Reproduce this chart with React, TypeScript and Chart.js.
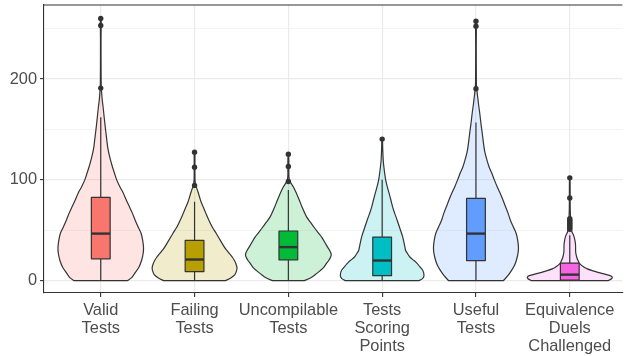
import React, { useEffect, useRef } from "react";
import { Chart, registerables } from "chart.js";

Chart.register(...registerables);

// Category labels (multi-line)
const categories: string[][] = [
  ["Valid", "Tests"],
  ["Failing", "Tests"],
  ["Uncompilable", "Tests"],
  ["Tests", "Scoring", "Points"],
  ["Useful", "Tests"],
  ["Equivalence", "Duels", "Challenged"],
];

const yTicks = [0, 50, 100, 150, 200, 250];
const yLabelled = [0, 100, 200];

// Violin density profiles: [value, half width in category units]
const validViolin: number[][] = [
  [0, 0.283], [3, 0.33], [7, 0.36], [13, 0.405], [20, 0.435], [27, 0.452], [33, 0.456],
  [40, 0.447], [47, 0.43], [53, 0.4], [60, 0.367], [67, 0.337], [73, 0.307], [80, 0.272],
  [87, 0.24], [93, 0.205], [100, 0.17], [107, 0.145], [113, 0.124], [120, 0.103], [127, 0.085],
  [133, 0.073], [140, 0.064], [147, 0.055], [153, 0.047], [160, 0.039], [167, 0.031],
  [173, 0.024], [180, 0.015], [187, 0.009], [193, 0.005], [200, 0.004], [220, 0.003],
  [240, 0.003], [250, 0.004], [255, 0.005], [259, 0.004], [261, 0],
];
const failingViolin: number[][] = [
  [0, 0.33], [3, 0.39], [6, 0.43], [10, 0.448], [13, 0.452], [17, 0.44], [20, 0.425],
  [23, 0.405], [27, 0.37], [30, 0.345], [33, 0.32], [40, 0.275], [47, 0.23], [53, 0.19],
  [60, 0.153], [67, 0.12], [73, 0.093], [78, 0.07], [83, 0.053], [88, 0.037], [92, 0.022],
  [96, 0.01], [100, 0.005], [110, 0.004], [120, 0.004], [126, 0.004], [128, 0],
];
const uncompilableViolin: number[][] = [
  [0, 0.17], [3, 0.24], [7, 0.3], [10, 0.34], [13, 0.375], [17, 0.405], [20, 0.43],
  [23, 0.448], [26, 0.457], [30, 0.44], [33, 0.42], [37, 0.395], [43, 0.357], [48, 0.315],
  [53, 0.274], [58, 0.235], [63, 0.196], [68, 0.17], [73, 0.146], [78, 0.125], [83, 0.103],
  [88, 0.08], [93, 0.054], [96, 0.033], [99, 0.015], [103, 0.006], [110, 0.005],
  [120, 0.005], [126, 0],
];
const scoringViolin: number[][] = [
  [0, 0.39], [2, 0.43], [5, 0.446], [10, 0.435], [13, 0.41], [17, 0.374], [20, 0.34],
  [23, 0.3], [27, 0.27], [30, 0.25], [33, 0.243], [38, 0.232], [43, 0.22], [48, 0.203],
  [53, 0.185], [60, 0.16], [67, 0.133], [73, 0.112], [80, 0.093], [87, 0.073], [93, 0.055],
  [98, 0.042], [103, 0.032], [113, 0.018], [120, 0.011], [130, 0.006], [138, 0.004], [141, 0],
];
const usefulViolin: number[][] = [
  [0, 0.292], [5, 0.34], [10, 0.378], [15, 0.41], [20, 0.43], [27, 0.448], [33, 0.453],
  [40, 0.445], [47, 0.428], [53, 0.4], [60, 0.367], [67, 0.342], [73, 0.317], [80, 0.288],
  [87, 0.257], [93, 0.227], [100, 0.196], [107, 0.167], [113, 0.139], [120, 0.116],
  [127, 0.096], [133, 0.085], [140, 0.075], [147, 0.066], [153, 0.057], [160, 0.048],
  [167, 0.039], [173, 0.03], [180, 0.021], [187, 0.012], [193, 0.006], [200, 0.004],
  [230, 0.003], [250, 0.004], [256, 0.004], [258, 0],
];
const duelsViolin: number[][] = [
  [0, 0.41], [2, 0.445], [3.5, 0.453], [5, 0.43], [6.7, 0.365], [8, 0.31], [10, 0.24],
  [12, 0.18], [13.5, 0.15], [17, 0.105], [20, 0.088], [23, 0.075], [27, 0.065], [30, 0.062],
  [34, 0.062], [37, 0.06], [40, 0.055], [43, 0.048], [46, 0.036], [48, 0.025], [52, 0.014],
  [58, 0.01], [63, 0.008], [70, 0.005], [80, 0.004], [90, 0.004], [100, 0.003], [102, 0],
];

// Box plot statistics per category
const boxQ1 = [21.7, 9, 20.7, 5, 20, 0.5];
const boxMedian = [46.7, 21, 33.3, 20, 46.7, 6];
const boxQ3 = [82.7, 40, 49.3, 43.3, 81.7, 17.5];
const whiskerLow = [0, 0, 0, 0, 0, 0];
const whiskerHigh = [162, 78.3, 90, 100, 157, 45];

// Outlying observations per category
const validOutliers = [191, 253, 260];
const failingOutliers = [94.5, 112.5, 127.5];
const uncompilableOutliers = [98.3, 113.3, 125.5];
const scoringOutliers = [140.4];
const usefulOutliers = [190.4, 252.3, 257.3];
const duelsOutliers = [51, 52.5, 54, 55.5, 57, 58.5, 60, 61.5, 82, 102];

const violins = [validViolin, failingViolin, uncompilableViolin, scoringViolin, usefulViolin, duelsViolin];
const outliers = [validOutliers, failingOutliers, uncompilableOutliers, scoringOutliers, usefulOutliers, duelsOutliers];

const palette = ["#F8766D", "#B79F00", "#00BA38", "#00BFC4", "#619CFF", "#F564E3"];
const INK = "#333333";
const BOX_WIDTH = 0.2;

function hexToRgba(hex: string, a: number) {
  const n = parseInt(hex.slice(1), 16);
  return `rgba(${(n >> 16) & 255},${(n >> 8) & 255},${n & 255},${a})`;
}

// Smooth open curve through points (Catmull-Rom converted to Bezier)
function smoothPath(ctx: CanvasRenderingContext2D, pts: number[][]) {
  ctx.moveTo(pts[0][0], pts[0][1]);
  for (let i = 0; i < pts.length - 1; i++) {
    const p0 = pts[Math.max(0, i - 1)];
    const p1 = pts[i];
    const p2 = pts[i + 1];
    const p3 = pts[Math.min(pts.length - 1, i + 2)];
    const c1x = p1[0] + (p2[0] - p0[0]) / 6;
    const c1y = p1[1] + (p2[1] - p0[1]) / 6;
    const c2x = p2[0] - (p3[0] - p1[0]) / 6;
    const c2y = p2[1] - (p3[1] - p1[1]) / 6;
    ctx.bezierCurveTo(c1x, c1y, c2x, c2y, p2[0], p2[1]);
  }
}

const violinBoxPlugin = {
  id: "violinBox",
  beforeDatasetsDraw(chart: any) {
    const { ctx, scales } = chart;
    const xs = scales.x;
    const ys = scales.y;
    const unit = xs.getPixelForValue(2) - xs.getPixelForValue(1);
    ctx.save();
    ctx.lineJoin = "round";
    ctx.lineCap = "butt";

    violins.forEach((prof, i) => {
      const xc = xs.getPixelForValue(i + 1);
      const right = prof.map(([v, w]) => [xc + w * unit, ys.getPixelForValue(v)]);
      const left = prof
        .slice(0, -1)
        .reverse()
        .map(([v, w]) => [xc - w * unit, ys.getPixelForValue(v)]);
      ctx.beginPath();
      smoothPath(ctx, right.concat(left));
      ctx.closePath();
      ctx.fillStyle = hexToRgba(palette[i], 0.2);
      ctx.fill();
      ctx.strokeStyle = INK;
      ctx.lineWidth = 1.2;
      ctx.stroke();
    });

    violins.forEach((_, i) => {
      const xc = xs.getPixelForValue(i + 1);
      const half = (BOX_WIDTH / 2) * unit;
      const yq1 = ys.getPixelForValue(boxQ1[i]);
      const yq3 = ys.getPixelForValue(boxQ3[i]);
      const ymed = ys.getPixelForValue(boxMedian[i]);
      const ylo = ys.getPixelForValue(whiskerLow[i]);
      const yhi = ys.getPixelForValue(whiskerHigh[i]);
      ctx.strokeStyle = INK;
      ctx.lineWidth = 1.2;
      ctx.beginPath();
      ctx.moveTo(xc, yq3);
      ctx.lineTo(xc, yhi);
      ctx.moveTo(xc, yq1);
      ctx.lineTo(xc, ylo);
      ctx.stroke();
      ctx.fillStyle = palette[i];
      ctx.fillRect(xc - half, yq3, 2 * half, yq1 - yq3);
      ctx.strokeRect(xc - half, yq3, 2 * half, yq1 - yq3);
      ctx.lineWidth = 2.4;
      ctx.beginPath();
      ctx.moveTo(xc - half, ymed);
      ctx.lineTo(xc + half, ymed);
      ctx.stroke();
    });
    ctx.restore();
  },
  afterDraw(chart: any) {
    const { ctx, chartArea } = chart;
    ctx.save();
    ctx.strokeStyle = INK;
    ctx.lineWidth = 1.1;
    ctx.beginPath();
    ctx.moveTo(chartArea.left, chartArea.top);
    ctx.lineTo(chartArea.right, chartArea.top);
    ctx.stroke();
    ctx.restore();
  },
};

const FONT = "'Liberation Sans', Arial, sans-serif";

export default function App() {
  const canvasRef = useRef<HTMLCanvasElement | null>(null);

  useEffect(() => {
    document.body.style.margin = "0";
    const canvas = canvasRef.current;
    if (!canvas) return;

    const points = outliers.flatMap((vals, i) => vals.map((v) => ({ x: i + 1, y: v })));

    const chart = new Chart(canvas, {
      type: "scatter",
      data: {
        datasets: [
          {
            data: points,
            pointRadius: 2.7,
            pointHoverRadius: 2.7,
            pointBackgroundColor: INK,
            pointBorderWidth: 0,
            showLine: false,
          },
        ],
      },
      options: {
        responsive: false,
        animation: false,
        devicePixelRatio: 1,
        layout: { padding: { top: 5, right: 0, left: 0, bottom: 0 } },
        plugins: { legend: { display: false }, tooltip: { enabled: false } },
        scales: {
          x: {
            type: "linear",
            min: 0.395,
            max: 6.56,
            afterBuildTicks: (scale: any) => {
              scale.ticks = categories.map((_, i) => ({ value: i + 1 }));
            },
            afterFit: (scale: any) => {
              scale.height = 63;
              scale.paddingLeft = 0;
              scale.paddingRight = 0;
            },
            ticks: {
              autoSkip: false,
              maxRotation: 0,
              minRotation: 0,
              padding: 4,
              color: "#4D4D4D",
              font: { family: FONT, size: 16.4, lineHeight: 1.115 },
              callback: (v: any) => categories[Math.round(Number(v)) - 1] ?? "",
            },
            grid: {
              color: "#EBEBEB",
              lineWidth: 1.2,
              tickColor: INK,
              tickLength: 4,
              tickWidth: 1.1,
            },
            border: { color: INK, width: 1.1 },
          },
          y: {
            type: "linear",
            min: -12.2,
            max: 273.4,
            afterBuildTicks: (scale: any) => {
              scale.ticks = yTicks.map((v) => ({ value: v }));
            },
            afterFit: (scale: any) => {
              scale.width = 44;
              scale.paddingTop = 0;
              scale.paddingBottom = 0;
            },
            ticks: {
              autoSkip: false,
              padding: 3,
              color: "#4D4D4D",
              font: { family: FONT, size: 16.4 },
              callback: (v: any) => (yLabelled.includes(Number(v)) ? String(v) : ""),
            },
            grid: {
              color: "#EBEBEB",
              lineWidth: (c: any) => (yLabelled.includes(c.tick?.value) ? 1.2 : 0.6),
              tickColor: (c: any) => (yLabelled.includes(c.tick?.value) ? INK : "rgba(0,0,0,0)"),
              tickLength: 4,
              tickWidth: 1.1,
            },
            border: { color: INK, width: 1.1 },
          },
        },
      },
      plugins: [violinBoxPlugin],
    } as any);

    return () => chart.destroy();
  }, []);

  return (
    <div style={{ width: 625, height: 356 }}>
      <canvas ref={canvasRef} width={625} height={356} />
    </div>
  );
}
